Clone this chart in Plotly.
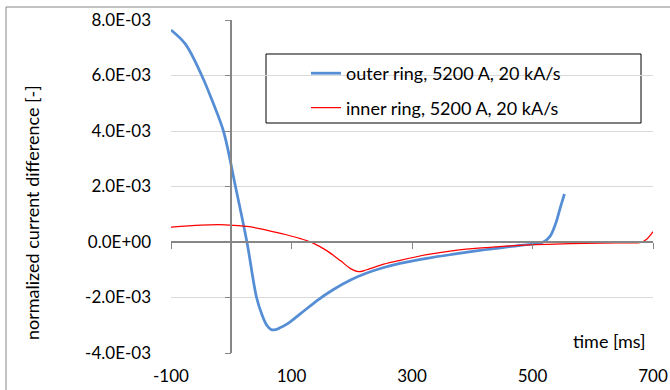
import plotly.graph_objects as go

# ---- data (time in ms, values in units of 1E-03) ----
outer_name = "outer ring, 5200 A, 20 kA/s"
outer_t = [-100, -76, -49, -31, -13, 7, 26, 42, 51, 59, 66, 71, 80, 93, 115, 143, 169, 198,
           225, 253, 280, 327, 369, 424, 480, 518, 529, 538, 546, 553]
outer_v = [7.64, 7.13, 6.0, 5.06, 4.0, 2.0, 0.0, -2.0, -2.62, -3.0, -3.15, -3.17, -3.1, -2.95,
           -2.58, -2.1, -1.72, -1.37, -1.12, -0.92, -0.77, -0.58, -0.44, -0.27, -0.12,
           0.0, 0.2, 0.64, 1.23, 1.73]

inner_name = "inner ring, 5200 A, 20 kA/s"
inner_t = [-100, -50, -10, 30, 60, 90, 115, 136, 159, 181, 198, 211, 225, 253, 280, 327,
           369, 424, 480, 563, 640, 680, 690, 700]
inner_v = [0.54, 0.61, 0.62, 0.55, 0.42, 0.27, 0.12, -0.04, -0.32, -0.67, -0.96, -1.07,
           -1.0, -0.8, -0.66, -0.45, -0.31, -0.2, -0.12, -0.06, -0.03, -0.01, 0.11, 0.37]

x_tick_vals = [-100, 100, 300, 500, 700]
x_tick_text = ["-100", "100", "300", "500", "700"]
y_tick_vals = [-4e-3, -2e-3, 0.0, 2e-3, 4e-3, 6e-3, 8e-3]
y_tick_text = ["-4.0E-03", "-2.0E-03", "0.0E+00", "2.0E-03", "4.0E-03", "6.0E-03", "8.0E-03"]

x_title = "time [ms]"
y_title = "normalized current difference [-]"

x_range = [-100, 700]
y_range = [-4e-3, 8e-3]

# ---- layout constants ----
W, H = 670, 390
ML, MR, MT, MB = 171, 17, 20, 37
PW, PH = W - ML - MR, H - MT - MB
FONT = "Lato"
AX = "#868686"
GRID = "#d9d9d9"


def px_x(p):
    return (p - ML) / PW


def px_y(p):
    return (H - MB - p) / PH


fig = go.Figure()
fig.add_trace(go.Scatter(x=outer_t, y=[v * 1e-3 for v in outer_v], name=outer_name,
                         mode="lines", line=dict(color="#558ED5", width=2.75, shape="spline", smoothing=1.0),
                         legendgroup="a"))
fig.add_trace(go.Scatter(x=inner_t, y=[v * 1e-3 for v in inner_v], name=inner_name,
                         mode="lines", line=dict(color="#FF0000", width=1.25, shape="spline", smoothing=1.0),
                         legendgroup="b"))
# carrier trace for the crossing axes (no visible marks)
fig.add_trace(go.Scatter(x=[None], y=[None], xaxis="x2", yaxis="y2", showlegend=False,
                         hoverinfo="skip"))

pos_x_axis = (0 - y_range[0]) / (y_range[1] - y_range[0])
pos_y_axis = (0 - x_range[0]) / (x_range[1] - x_range[0])

fig.update_layout(
    width=W, height=H,
    margin=dict(l=ML, r=MR, t=MT, b=MB, autoexpand=False),
    paper_bgcolor="white", plot_bgcolor="white",
    font=dict(family=FONT, size=17, color="black"),
    xaxis=dict(range=x_range, tickvals=x_tick_vals, ticktext=x_tick_text, showgrid=False,
               zeroline=False, showline=False, ticks="", ticklabelstandoff=11,
               tickfont=dict(size=17), automargin=False),
    yaxis=dict(range=y_range, tickvals=y_tick_vals, ticktext=y_tick_text, showgrid=True,
               gridcolor=GRID, gridwidth=1, zeroline=False, showline=False, ticks="",
               ticklabelstandoff=19, tickfont=dict(size=17), automargin=False),
    xaxis2=dict(range=x_range, overlaying="x", anchor="free", position=pos_x_axis,
                side="bottom", tickvals=x_tick_vals, showticklabels=False, showgrid=False,
                zeroline=False, showline=True, linecolor=AX, linewidth=1.5,
                ticks="outside", ticklen=6, tickcolor=AX, tickwidth=1, automargin=False),
    yaxis2=dict(range=y_range, overlaying="y", anchor="free", position=pos_y_axis,
                side="left", tickvals=y_tick_vals, showticklabels=False, showgrid=False,
                zeroline=False, showline=True, linecolor=AX, linewidth=1.5,
                ticks="outside", ticklen=6, tickcolor=AX, tickwidth=1, automargin=False),
    legend=dict(x=px_x(306), y=px_y(55), xanchor="left", yanchor="top",
                bgcolor="rgba(0,0,0,0)", borderwidth=0, tracegroupgap=8,
                font=dict(family=FONT, size=18, color="black")),
    showlegend=True,
)

# legend frame and chart border
fig.add_shape(type="rect", xref="paper", yref="paper",
              x0=px_x(266), x1=px_x(641), y0=px_y(123), y1=px_y(54),
              line=dict(color="black", width=1), fillcolor="rgba(0,0,0,0)", layer="below")
fig.add_shape(type="rect", xref="paper", yref="paper",
              x0=px_x(6), x1=px_x(720), y0=px_y(420), y1=px_y(7),
              line=dict(color=AX, width=1), fillcolor="rgba(0,0,0,0)", layer="below")

fig.add_annotation(text=x_title, xref="paper", yref="paper", x=px_x(648), y=px_y(341),
                   xanchor="right", yanchor="middle", showarrow=False,
                   font=dict(family=FONT, size=18))
fig.add_annotation(text=y_title, xref="paper", yref="paper", x=px_x(32), y=px_y(213),
                   xanchor="center", yanchor="middle", textangle=-90, showarrow=False,
                   font=dict(family=FONT, size=18))

fig.write_html("out.html", config={"displayModeBar": False},
               post_script="document.body.style.margin='0px';document.body.style.padding='0px';")
